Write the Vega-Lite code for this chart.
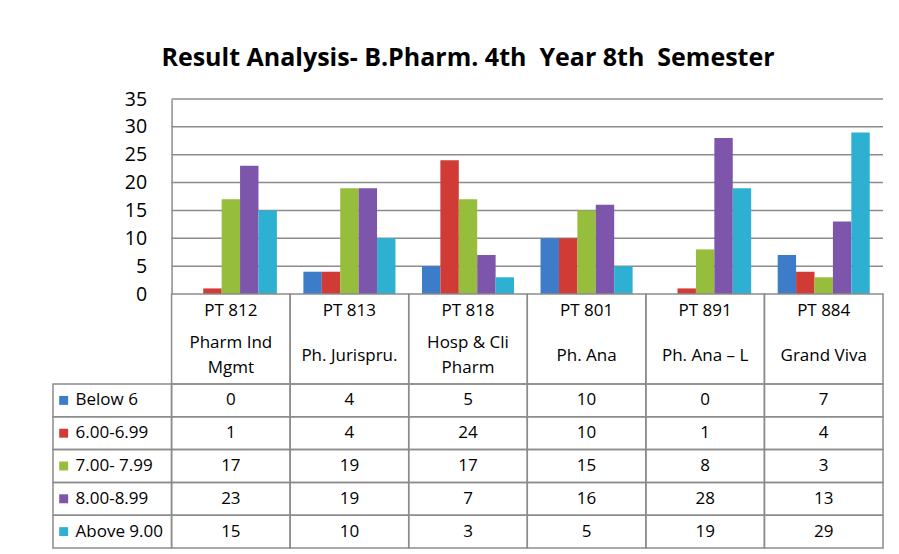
{
  "$schema": "https://vega.github.io/schema/vega-lite/v6.json",
  "background": "white",
  "padding": {"left": 52, "top": 46, "right": 10, "bottom": 4},
  "bounds": "flush",
  "title": {"text": "Result Analysis- B.Pharm. 4th \u00a0Year 8th \u00a0Semester", "font": "Open Sans", "fontSize": 25, "fontWeight": "bold", "color": "black", "anchor": "middle", "offset": 18},
  "datasets": {
    "grades": [
      {"code": "PT 812", "series": "Below 6", "value": 0},
      {"code": "PT 812", "series": "6.00-6.99", "value": 1},
      {"code": "PT 812", "series": "7.00- 7.99", "value": 17},
      {"code": "PT 812", "series": "8.00-8.99", "value": 23},
      {"code": "PT 812", "series": "Above 9.00", "value": 15},
      {"code": "PT 813", "series": "Below 6", "value": 4},
      {"code": "PT 813", "series": "6.00-6.99", "value": 4},
      {"code": "PT 813", "series": "7.00- 7.99", "value": 19},
      {"code": "PT 813", "series": "8.00-8.99", "value": 19},
      {"code": "PT 813", "series": "Above 9.00", "value": 10},
      {"code": "PT 818", "series": "Below 6", "value": 5},
      {"code": "PT 818", "series": "6.00-6.99", "value": 24},
      {"code": "PT 818", "series": "7.00- 7.99", "value": 17},
      {"code": "PT 818", "series": "8.00-8.99", "value": 7},
      {"code": "PT 818", "series": "Above 9.00", "value": 3},
      {"code": "PT 801", "series": "Below 6", "value": 10},
      {"code": "PT 801", "series": "6.00-6.99", "value": 10},
      {"code": "PT 801", "series": "7.00- 7.99", "value": 15},
      {"code": "PT 801", "series": "8.00-8.99", "value": 16},
      {"code": "PT 801", "series": "Above 9.00", "value": 5},
      {"code": "PT 891", "series": "Below 6", "value": 0},
      {"code": "PT 891", "series": "6.00-6.99", "value": 1},
      {"code": "PT 891", "series": "7.00- 7.99", "value": 8},
      {"code": "PT 891", "series": "8.00-8.99", "value": 28},
      {"code": "PT 891", "series": "Above 9.00", "value": 19},
      {"code": "PT 884", "series": "Below 6", "value": 7},
      {"code": "PT 884", "series": "6.00-6.99", "value": 4},
      {"code": "PT 884", "series": "7.00- 7.99", "value": 3},
      {"code": "PT 884", "series": "8.00-8.99", "value": 13},
      {"code": "PT 884", "series": "Above 9.00", "value": 29}
    ],
    "subjects": [
      {"code": "PT 812", "name": "Pharm Ind\nMgmt"},
      {"code": "PT 813", "name": "Ph. Jurispru."},
      {"code": "PT 818", "name": "Hosp & Cli\nPharm"},
      {"code": "PT 801", "name": "Ph. Ana"},
      {"code": "PT 891", "name": "Ph. Ana – L"},
      {"code": "PT 884", "name": "Grand Viva"}
    ],
    "gridlines": [{"g": 5}, {"g": 10}, {"g": 15}, {"g": 20}, {"g": 25}, {"g": 30}, {"g": 35}]
  },
  "spacing": 0,
  "vconcat": [
    {
      "width": 830,
      "height": 195,
      "layer": [
        {
          "data": {"name": "gridlines"},
          "mark": {"type": "rule", "color": "#8c8c8c", "strokeWidth": 1.5},
          "encoding": {
            "y": {"field": "g", "type": "quantitative", "scale": {"domain": [0, 35], "nice": false},
              "axis": {"values": [0, 5, 10, 15, 20, 25, 30, 35], "labelOverlap": false, "offset": -118.57, "grid": false, "ticks": false, "domain": true, "domainColor": "#8c8c8c", "domainWidth": 1.5, "labelFontSize": 19.5, "labelColor": "black", "labelFont": "Open Sans", "labelPadding": 25, "title": null}},
            "x": {"datum": "PT 812", "type": "nominal", "bandPosition": 0,
              "scale": {"domain": ["_", "PT 812", "PT 813", "PT 818", "PT 801", "PT 891", "PT 884"], "paddingInner": 0, "paddingOuter": 0}, "axis": null},
            "x2": {"datum": "PT 884", "bandPosition": 1}
          }
        },
        {
          "data": {"name": "grades"},
          "mark": {"type": "bar"},
          "encoding": {
            "x": {"field": "code", "type": "nominal", "axis": null},
            "xOffset": {"field": "series", "type": "nominal", "scale": {"domain": ["Below 6", "6.00-6.99", "7.00- 7.99", "8.00-8.99", "Above 9.00"], "paddingInner": 0, "paddingOuter": 0.72}},
            "y": {"field": "value", "type": "quantitative",
              "axis": {"values": [0, 5, 10, 15, 20, 25, 30, 35], "labelOverlap": false, "offset": -118.57, "grid": false, "ticks": false, "domain": true, "domainColor": "#8c8c8c", "domainWidth": 1.5, "labelFontSize": 19.5, "labelColor": "black", "labelFont": "Open Sans", "labelPadding": 25, "title": null}},
            "color": {"field": "series", "type": "nominal", "scale": {"domain": ["Below 6", "6.00-6.99", "7.00- 7.99", "8.00-8.99", "Above 9.00"], "range": ["#3d7cc9", "#d03b36", "#97bd3d", "#7d55aa", "#2eb0d2"]}, "legend": null}
          }
        }
      ]
    },
    {
      "width": 830,
      "height": 90,
      "data": {"name": "subjects"},
      "encoding": {
        "x": {"field": "code", "type": "nominal", "scale": {"domain": ["_", "PT 812", "PT 813", "PT 818", "PT 801", "PT 891", "PT 884"], "paddingInner": 0, "paddingOuter": 0}, "axis": null}
      },
      "layer": [
        {"mark": {"type": "rect", "filled": false, "color": "#8c8c8c", "strokeWidth": 1.5}},
        {
          "mark": {"type": "text", "fontSize": 17, "font": "Open Sans", "color": "black", "dy": -6},
          "encoding": {
            "y": {"datum": "code", "type": "nominal", "scale": {"domain": ["code", "name"], "paddingInner": 0, "paddingOuter": 0}, "axis": null},
            "text": {"field": "code"}
          }
        },
        {
          "transform": [{"filter": "indexof(datum.name, '\\n') < 0"}],
          "mark": {"type": "text", "fontSize": 17, "font": "Open Sans", "color": "black", "dy": -6},
          "encoding": {
            "y": {"datum": "name", "type": "nominal"},
            "text": {"field": "name"}
          }
        },
        {
          "transform": [{"filter": "indexof(datum.name, '\\n') >= 0"}],
          "mark": {"type": "text", "fontSize": 17, "font": "Open Sans", "color": "black", "dy": -19, "lineBreak": "\n", "lineHeight": 25},
          "encoding": {
            "y": {"datum": "name", "type": "nominal"},
            "text": {"field": "name"}
          }
        }
      ]
    },
    {
      "width": 830,
      "height": 164,
      "data": {"name": "grades"},
      "encoding": {
        "y": {"field": "series", "type": "nominal", "scale": {"domain": ["Below 6", "6.00-6.99", "7.00- 7.99", "8.00-8.99", "Above 9.00"], "paddingInner": 0, "paddingOuter": 0}, "axis": null}
      },
      "layer": [
        {
          "mark": {"type": "rect", "filled": false, "color": "#8c8c8c", "strokeWidth": 1.5},
          "encoding": {"x": {"field": "code", "type": "nominal", "scale": {"domain": ["_", "PT 812", "PT 813", "PT 818", "PT 801", "PT 891", "PT 884"], "paddingInner": 0, "paddingOuter": 0}, "axis": null}}
        },
        {
          "transform": [{"aggregate": [{"op": "count", "as": "n"}], "groupby": ["series"]}],
          "mark": {"type": "rect", "filled": false, "color": "#8c8c8c", "strokeWidth": 1.5},
          "encoding": {"x": {"datum": "_", "type": "nominal"}}
        },
        {
          "mark": {"type": "text", "fontSize": 17, "font": "Open Sans", "color": "black"},
          "encoding": {"x": {"field": "code", "type": "nominal"}, "text": {"field": "value", "type": "quantitative"}}
        },
        {
          "transform": [{"aggregate": [{"op": "count", "as": "n"}], "groupby": ["series"]}],
          "mark": {"type": "square", "size": 80, "opacity": 1, "filled": true},
          "encoding": {
            "x": {"datum": "_", "type": "nominal", "bandPosition": 0.09},
            "color": {"field": "series", "type": "nominal", "scale": {"domain": ["Below 6", "6.00-6.99", "7.00- 7.99", "8.00-8.99", "Above 9.00"], "range": ["#3d7cc9", "#d03b36", "#97bd3d", "#7d55aa", "#2eb0d2"]}, "legend": null}
          }
        },
        {
          "transform": [{"aggregate": [{"op": "count", "as": "n"}], "groupby": ["series"]}],
          "mark": {"type": "text", "fontSize": 17, "font": "Open Sans", "color": "black", "align": "left"},
          "encoding": {
            "x": {"datum": "_", "type": "nominal", "bandPosition": 0.19},
            "text": {"field": "series"}
          }
        }
      ]
    }
  ],
  "config": {"view": {"stroke": null}, "font": "Open Sans"}
}
